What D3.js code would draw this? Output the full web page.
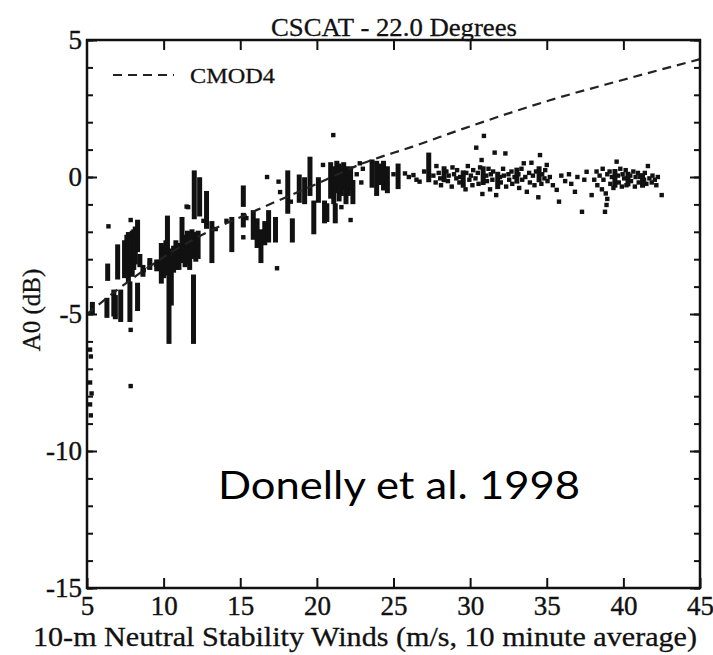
<!DOCTYPE html>
<html lang="en">

<head>
	<meta charset="UTF-8" />
	<title>CSCAT - 22.0 Degrees</title>
	<script src="https://cdn.jsdelivr.net/npm/d3@7"></script>
	<style>
		body { margin: 0; background: #fff; }
	</style>
</head>

<body>
	<svg id="vis" width="713" height="655"></svg>
	<script>
		// axes
		const xTicks = [5, 10, 15, 20, 25, 30, 35, 40, 45];
		const yTicks = [-15, -10, -5, 0, 5];

		// CMOD4 model curve
		const cmodWind = [5, 8.6, 12.2, 16.1, 20, 23, 26.2, 30, 35.2, 40, 45];
		const cmodA0 = [-5.0, -3.45, -2.2, -1.2, -0.25, 0.5, 1.1, 1.85, 2.8, 3.55, 4.3];

		// vertical runs of points: [wind, a0 end 1, a0 end 2]
		const stacks = [
			[5.35, -4.65, -4.95], [6.3, -4.5, -5.05], [6.35, -3.25, -3.7], [6.75, -4.2, -5.0],
			[6.85, -4.4, -5.1], [7.0, -2.55, -3.65], [7.2, -4.2, -5.2], [7.45, -2.4, -3.6],
			[7.6, -2.2, -3.5], [7.7, -2.1, -3.75], [7.8, -3.9, -5.2], [7.85, -2.3, -3.4],
			[7.95, -2.05, -3.55], [8.05, -2.0, -3.3], [8.15, -1.9, -3.1], [8.3, -1.65, -2.65],
			[8.3, -3.95, -4.8], [8.45, -2.9, -3.2], [8.65, -3.3, -3.55], [9.1, -3.05, -3.3],
			[9.55, -3.1, -3.35],
			[9.85, -2.5, -3.8], [10.0, -2.6, -3.6], [10.15, -2.4, -3.5], [10.25, -1.5, -2.65],
			[10.35, -2.7, -6.0], [10.5, -3.0, -4.6], [10.65, -2.6, -3.4], [10.8, -2.4, -3.3],
			[11.0, -2.5, -3.3], [11.2, -1.55, -3.05], [11.4, -2.2, -3.2], [11.55, -2.05, -3.1],
			[11.7, -2.1, -3.3], [11.85, -2.0, -2.9], [11.95, -3.65, -6.0], [12.0, 0.15, -1.45],
			[12.1, -2.1, -3.0], [12.25, -2.05, -2.9], [12.35, -0.1, -1.35], [12.8, -0.6, -1.8],
			[13.15, -1.7, -3.05],
			[14.45, -1.55, -2.65], [15.2, -0.4, -1.0], [15.2, -1.4, -1.75], [15.85, -1.3, -2.2],
			[16.1, -1.6, -2.5], [16.35, -2.0, -3.05], [16.6, -1.7, -2.4], [16.85, -1.3, -2.3],
			[17.3, -1.55, -2.3], [18.1, 0.15, -1.25], [18.4, -1.6, -2.3], [18.85, 0.0, -0.85],
			[19.2, -0.1, -0.9], [19.55, 0.65, -0.6], [19.8, -0.95, -2.0], [20.1, -0.1, -0.85],
			[20.5, -0.95, -1.6], [20.65, -1.05, -1.55], [21.2, -1.05, -1.6],
			[20.9, 0.45, -0.7], [21.1, 0.3, -0.9], [21.3, 0.5, -0.5], [21.45, 0.4, -0.8],
			[21.6, 0.3, -0.6], [21.75, 0.45, -0.4], [21.9, 0.3, -0.9], [22.05, 0.2, -0.6],
			[22.2, 0.3, -0.4], [22.35, -0.2, -0.9],
			[23.6, 0.55, -0.3], [23.9, 0.5, -0.6], [24.1, 0.4, -0.2], [24.35, 0.5, -0.4],
			[24.6, 0.3, -0.5], [25.3, 0.4, -0.35], [27.3, 0.8, -0.1],
			[28.3, 0.3, -0.1], [29.55, 0.15, -0.3], [30.85, 0.3, -0.2], [31.8, 0.1, -0.35],
			[33.05, 0.25, -0.15], [34.5, 0.3, -0.1], [39.45, 0.2, -0.3], [40.3, 0.1, -0.25],
			[41.25, 0.05, -0.3]
		];

		// single points: [wind, a0]
		const dots = [
			[5.2, -6.3], [5.25, -6.55], [5.2, -7.5], [5.3, -7.9], [5.2, -8.3], [5.25, -8.7],
			[6.4, -1.8], [7.85, -1.57], [7.85, -5.58], [7.85, -7.63], [8.7, -3.4], [9.1, -3.15],
			[9.5, -3.2], [11.5, -1.08], [11.6, -1.1], [12.6, -1.6], [13.4, -1.9], [14.1, -1.6],
			[15.2, -2.2], [15.4, -1.5], [16.75, 0.0], [17.5, -0.17], [17.6, -0.55], [17.4, -3.33],
			[18.3, -0.9], [20.4, 0.44], [21.07, 1.53], [21.6, -1.1], [22.2, -1.57], [22.6, 0.1],
			[22.8, 0.5], [22.9, -0.2], [23.0, 0.3], [25.0, 0.1], [25.75, 0.13], [26.0, 0.0],
			[26.3, 0.07], [26.5, -0.1], [26.7, -0.17], [27.0, 0.2],
			[27.6, 0.05], [27.75, -0.2], [27.8, 0.4], [27.95, 0.15], [28.05, -0.05], [28.1, -0.3],
			[28.45, 0.2], [28.55, -0.15], [28.6, 0.05], [28.8, -0.35], [28.85, 0.35], [28.95, 0.1],
			[29.1, -0.05], [29.15, 0.25], [29.3, -0.2], [29.35, 0.0], [29.7, -0.45], [29.75, 0.15],
			[29.85, 0.4], [29.95, -0.1], [30.05, 0.05], [30.15, -0.3], [30.2, 0.25], [30.35, -0.05],
			[30.4, 1.07], [30.5, 0.15], [30.55, -0.25], [30.65, 0.35], [30.75, 0.62], [30.8, -0.62],
			[30.9, 1.5], [31.05, 0.05], [31.1, -0.15], [31.2, 0.3], [31.3, -0.45], [31.35, 0.1],
			[31.45, -0.1], [31.5, 0.2], [31.6, 0.89], [31.7, -0.66], [31.95, 0.0], [32.0, -0.2],
			[32.15, 0.3], [32.2, 0.05], [32.3, 0.86], [32.35, -0.35], [32.5, 0.1], [32.55, -0.1],
			[32.7, 0.2], [32.75, -0.25], [32.9, 0.0], [33.15, 0.1], [33.2, -0.4], [33.35, 0.3],
			[33.4, -0.1], [33.5, 0.5], [33.6, 0.0], [33.7, -0.54], [33.85, 0.15], [33.9, -0.2],
			[34.0, 0.52], [34.1, 0.05], [34.2, -0.3], [34.3, 0.2], [34.45, -0.74], [34.56, 0.8],
			[34.65, -0.25], [34.7, 0.1], [34.85, -0.05], [34.9, 0.25], [35.0, 0.44], [35.05, -0.15],
			[35.2, 0.0],
			[35.4, -0.3], [35.65, -0.47], [35.8, -0.9], [35.95, 0.05], [36.2, -0.15], [36.45, 0.1],
			[36.6, -0.25], [36.84, -0.54], [37.0, 0.0], [37.3, -1.27], [37.45, -0.1], [37.6, 0.19],
			[37.93, -0.66],
			[38.1, -0.1], [38.25, 0.2], [38.3, -0.3], [38.45, 0.05], [38.6, -0.45], [38.65, 0.3],
			[38.7, -0.1], [38.8, -1.27], [38.85, -0.6], [38.9, -1.02], [38.95, -0.8], [38.95, 0.1],
			[39.1, 0.2], [39.15, -0.25], [39.25, 0.0], [39.35, -0.4], [39.56, 0.56], [39.65, 0.05],
			[39.7, -0.2], [39.8, 0.3], [39.9, -0.35], [39.95, 0.1], [40.05, -0.05], [40.15, 0.25],
			[40.2, -0.3], [40.45, 0.05], [40.5, -0.15], [40.65, 0.2], [40.75, -0.35], [40.8, 0.0],
			[40.95, 0.15], [41.0, -0.2], [41.1, 0.0], [41.35, -0.1], [41.4, 0.15], [41.5, -0.25],
			[41.6, 0.4], [41.7, -0.05], [41.85, -0.2], [41.9, 0.05], [42.05, -0.1], [42.15, -0.3],
			[42.25, 0.0], [42.5, -0.66]
		];

		const pLeft = 87, pRight = 700, pTop = 40, pBottom = 588;
		const serif = "Liberation Serif, Times New Roman, serif";

		let x = d3.scaleLinear().domain([5, 45]).range([pLeft, pRight]);
		let y = d3.scaleLinear().domain([-15, 5]).range([pBottom, pTop]);

		let svg = d3.select("#vis");

		// data marks
		let gData = svg.append("g").attr("fill", "#111");
		gData.selectAll("rect.stack").data(stacks).enter().append("rect")
			.attr("class", "stack")
			.attr("x", d => x(d[0]) - 2.5)
			.attr("y", d => y(Math.max(d[1], d[2])) - 2.5)
			.attr("width", 5)
			.attr("height", d => y(Math.min(d[1], d[2])) - y(Math.max(d[1], d[2])) + 5);
		gData.selectAll("rect.dot").data(dots).enter().append("rect")
			.attr("class", "dot")
			.attr("x", d => x(d[0]) - 2.2)
			.attr("y", d => y(d[1]) - 2.2)
			.attr("width", 4.4)
			.attr("height", 4.4);

		// CMOD4 dashed curve
		let line = d3.line().x(d => x(d[0])).y(d => y(d[1])).curve(d3.curveMonotoneX);
		svg.append("path")
			.attr("d", line(d3.zip(cmodWind, cmodA0)))
			.attr("fill", "none")
			.attr("stroke", "#222")
			.attr("stroke-width", 2.2)
			.attr("stroke-dasharray", "9,6");

		// frame
		svg.append("rect")
			.attr("x", pLeft).attr("y", pTop)
			.attr("width", pRight - pLeft).attr("height", pBottom - pTop)
			.attr("fill", "none").attr("stroke", "#111").attr("stroke-width", 2.5);

		const tickFont = function (g) {
			g.select(".domain").remove();
			g.selectAll("line").attr("stroke", "#111").attr("stroke-width", 2);
			g.selectAll("text").attr("font-family", serif).attr("font-size", 27)
				.attr("fill", "#111").attr("stroke", "#111").attr("stroke-width", 0.4);
		};

		let minorY = d3.range(-15, 6);

		svg.append("g").attr("transform", `translate(0,${pBottom})`)
			.call(d3.axisBottom(x).tickValues(xTicks).tickSize(-10).tickPadding(8).tickFormat(d => String(d)))
			.call(tickFont);
		svg.append("g").attr("transform", `translate(0,${pTop})`)
			.call(d3.axisTop(x).tickValues(xTicks.slice(1, -1)).tickSize(-10).tickFormat(""))
			.call(tickFont);
		svg.append("g").attr("transform", `translate(${pLeft},0)`)
			.call(d3.axisLeft(y).tickValues(minorY).tickSize(-6).tickFormat(""))
			.call(tickFont);
		svg.append("g").attr("transform", `translate(${pLeft},0)`)
			.call(d3.axisLeft(y).tickValues(yTicks).tickSize(-10).tickPadding(5).tickFormat(d => String(d)))
			.call(tickFont);
		svg.append("g").attr("transform", `translate(${pRight},0)`)
			.call(d3.axisRight(y).tickValues(minorY).tickSize(-6).tickFormat(""))
			.call(tickFont);
		svg.append("g").attr("transform", `translate(${pRight},0)`)
			.call(d3.axisRight(y).tickValues(yTicks).tickSize(-10).tickFormat(""))
			.call(tickFont);

		// titles
		svg.append("text")
			.attr("x", 394).attr("y", 36)
			.attr("text-anchor", "middle")
			.attr("font-family", serif)
			.attr("font-size", 26)
			.attr("fill", "#111").attr("stroke", "#111").attr("stroke-width", 0.3)
			.attr("textLength", 246).attr("lengthAdjust", "spacingAndGlyphs")
			.text("CSCAT - 22.0 Degrees");

		svg.append("text")
			.attr("x", 365).attr("y", 646)
			.attr("text-anchor", "middle")
			.attr("font-family", serif)
			.attr("font-size", 28)
			.attr("fill", "#111").attr("stroke", "#111").attr("stroke-width", 0.3)
			.attr("textLength", 664).attr("lengthAdjust", "spacingAndGlyphs")
			.text("10-m Neutral Stability Winds (m/s, 10 minute average)");

		svg.append("text")
			.attr("transform", "translate(40,310) rotate(-90)")
			.attr("text-anchor", "middle")
			.attr("font-family", serif)
			.attr("font-size", 25)
			.attr("fill", "#111").attr("stroke", "#111").attr("stroke-width", 0.3)
			.text("A0 (dB)");

		// legend
		svg.append("line")
			.attr("x1", 113).attr("x2", 174).attr("y1", 75).attr("y2", 75)
			.attr("stroke", "#222").attr("stroke-width", 2.2).attr("stroke-dasharray", "9,6");
		svg.append("text")
			.attr("x", 190).attr("y", 83)
			.attr("font-family", serif)
			.attr("font-size", 22)
			.attr("fill", "#111").attr("stroke", "#111").attr("stroke-width", 0.3)
			.attr("textLength", 85).attr("lengthAdjust", "spacingAndGlyphs")
			.text("CMOD4");

		// annotation
		svg.append("text")
			.attr("x", 218).attr("y", 499)
			.attr("font-family", "Lato, 'Open Sans', sans-serif")
			.attr("font-size", 38)
			.attr("fill", "#000")
			.attr("textLength", 362).attr("lengthAdjust", "spacingAndGlyphs")
			.text("Donelly et al. 1998");
	</script>
</body>

</html>
